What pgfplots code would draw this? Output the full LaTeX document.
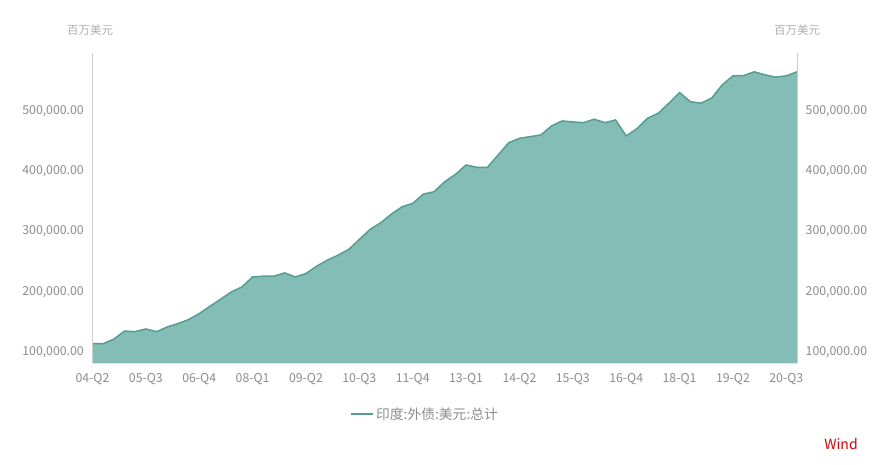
\documentclass[border=0pt]{standalone}
\usepackage{fontspec}
\setmainfont{Noto Sans CJK SC}
\usepackage{pgfplots}
\usepackage{pgfplotstable}
\pgfplotsset{compat=1.18}

\definecolor{areafill}{RGB}{132,189,181}
\definecolor{arealine}{RGB}{86,156,146}
\definecolor{ticktext}{RGB}{140,140,140}
\definecolor{unittext}{RGB}{175,175,175}
\definecolor{axisgray}{RGB}{205,205,205}
\definecolor{windred}{RGB}{220,0,0}

% India external debt, USD mn, quarterly 04-Q2 .. 20-Q4
\pgfplotstableread{
idx debt
0 111600
1 111600
2 119000
3 132500
4 131500
5 135900
6 131500
7 139200
8 144800
9 151500
10 161400
11 173600
12 185200
13 197300
14 205600
15 222200
16 223400
17 223400
18 228900
19 222200
20 227900
21 240000
22 250000
23 258300
24 267700
25 284400
26 301000
27 312000
28 326400
29 338500
30 344200
31 359600
32 363400
33 380000
34 392300
35 407800
36 404000
37 404000
38 424400
39 444800
40 452100
41 454800
42 457600
43 472500
44 480900
45 479200
46 478000
47 483700
48 478000
49 482500
50 455900
51 468000
52 485300
53 493600
54 510300
55 527900
56 512900
57 510300
58 518600
59 540700
60 555600
61 556100
62 562300
63 557300
64 553500
65 555600
66 562300
}\debt

\begin{document}
\begin{tikzpicture}[x=1pt,y=1pt]
\useasboundingbox (0,0) rectangle (889,464);
\pgfplotsset{
  base/.style={
    at={(92.5pt,100.7pt)}, anchor=south west,
    scale only axis, width=704.5pt, height=310.6pt,
    xmin=0, xmax=66, ymin=79000, ymax=594000,
    axis lines=box, separate axis lines,
    x axis line style={draw=none},
    y axis line style={draw=axisgray, line width=0.8pt},
    major tick length=0pt,
    ytick={100000,200000,300000,400000,500000},
    scaled y ticks=false,
    /pgf/number format/assume math mode=true,
    yticklabel style={/pgf/number format/fixed, /pgf/number format/fixed zerofill,
      /pgf/number format/precision=2, /pgf/number format/1000 sep={,},
      inner xsep=8.5pt, inner ysep=0pt, yshift=-1.5pt},
    ticklabel style={font=\fontsize{12.3}{14}\selectfont, text=ticktext},
  },
}
\begin{axis}[base,
    ytick pos=left,
    xtick={0,5,...,65},
    xticklabels={04-Q2,05-Q3,06-Q4,08-Q1,09-Q2,10-Q3,11-Q4,13-Q1,14-Q2,15-Q3,16-Q4,18-Q1,19-Q2,20-Q3},
    xticklabel style={inner ysep=10pt},
    legend style={draw=none, fill=none, at={(rel axis cs:0.472,-0.163)}, anchor=center,
      font=\fontsize{13.8}{16}\selectfont, text=ticktext},
    legend cell align=left,
  ]
  \addplot[fill=areafill, draw=none, forget plot] table[x=idx, y=debt] {\debt} \closedcycle;
  \addplot[draw=arealine, line width=1.5pt,
    legend image code/.code={\draw[line width=2pt, draw=arealine] (-2pt,0pt) -- (20pt,0pt);}]
    table[x=idx, y=debt] {\debt};
  \addlegendentry{印度:外债:美元:总计}
\end{axis}
\begin{axis}[base,
    ytick pos=right,
    yticklabel pos=right,
    xtick=\empty,
  ]
\end{axis}
\node[text=unittext, font=\fontsize{11.5}{13}\selectfont] at (90,434) {百万美元};
\node[text=unittext, font=\fontsize{11.5}{13}\selectfont] at (797,434) {百万美元};
\node[text=windred, font=\fontsize{14}{16}\selectfont] at (841,20) {Wind};
\end{tikzpicture}
\end{document}
